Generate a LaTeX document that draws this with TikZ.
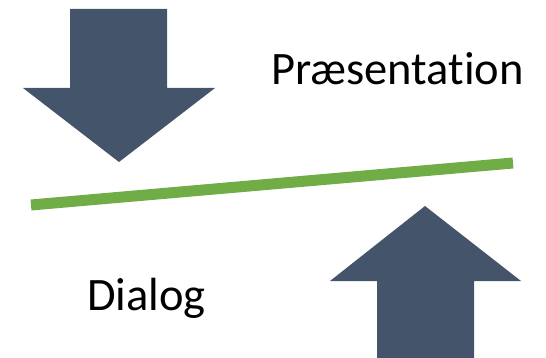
\documentclass[tikz,border=0pt]{standalone}
\usepackage{fontspec}
\setmainfont{Carlito}[Ligatures={NoCommon}]
\definecolor{arrowblue}{HTML}{44546A}
\definecolor{linegreen}{HTML}{70AD47}
\begin{document}
\begin{tikzpicture}[x=1pt,y=-1pt,
  bigarrow/.style={fill=arrowblue,draw=none},
  label/.style={inner sep=0pt,anchor=base west,font=\fontsize{46.5}{56}\selectfont}]
\useasboundingbox (0,0) rectangle (546,358);
% down arrow
\fill[bigarrow] (70,9) -- (167,9) -- (167,88) -- (215,88) -- (119,162) -- (23,88) -- (70,88) -- cycle;
% up arrow
\fill[bigarrow] (377,358) -- (474,358) -- (474,281) -- (521,281) -- (425,206) -- (330,281) -- (377,281) -- cycle;
% green line
\coordinate (L) at (31,205);
\coordinate (R) at (513,163);
\draw[linegreen,line width=11pt] (L) -- (R);
\node[label] (pres) at (271,85) {Præsentation};
\node[label] (dia) at (87,310) {Dialog};
\end{tikzpicture}
\end{document}
